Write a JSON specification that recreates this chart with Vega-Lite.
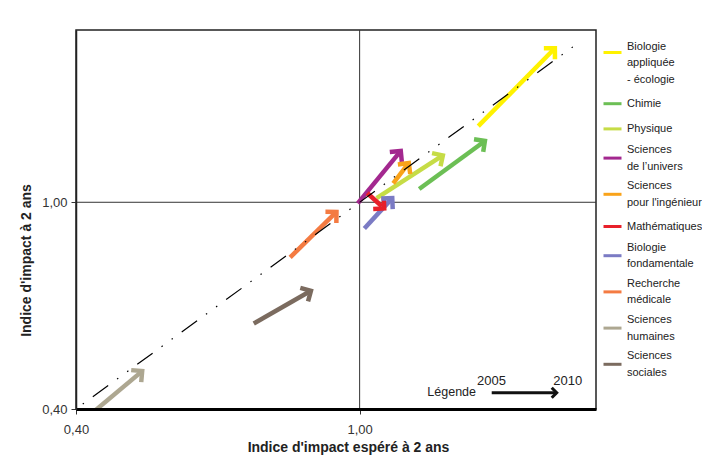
{
  "$schema": "https://vega.github.io/schema/vega-lite/v6.json",
  "width": 520,
  "height": 379,
  "autosize": {"type": "none"},
  "padding": {"left": 76, "top": 30, "right": 106, "bottom": 48},
  "background": "#ffffff",
  "config": {
    "font": "Liberation Sans",
    "view": {"stroke": "#222222", "strokeWidth": 1.5},
    "style": {"guide-label": {"lineHeight": 16.5}}
  },
  "datasets": {
    "arrows": [
      {"name": "Biologie\nappliquée\n- écologie", "x1": 1.251, "y1": 1.221, "x2": 1.413, "y2": 1.447},
      {"name": "Chimie", "x1": 1.126, "y1": 1.0385, "x2": 1.265, "y2": 1.178},
      {"name": "Physique", "x1": 1.036, "y1": 1.012, "x2": 1.176, "y2": 1.136},
      {"name": "Sciences\nde l’univers", "x1": 0.996, "y1": 0.997, "x2": 1.087, "y2": 1.149},
      {"name": "Sciences\npour l'ingénieur", "x1": 1.071, "y1": 1.055, "x2": 1.104, "y2": 1.114},
      {"name": "Mathématiques", "x1": 1.016, "y1": 1.027, "x2": 1.052, "y2": 0.982},
      {"name": "Biologie\nfondamentale", "x1": 1.010, "y1": 0.924, "x2": 1.069, "y2": 1.012},
      {"name": "Recherche\nmédicale", "x1": 0.853, "y1": 0.840, "x2": 0.951, "y2": 0.972},
      {"name": "Sciences\nhumaines", "x1": 0.440, "y1": 0.395, "x2": 0.540, "y2": 0.510},
      {"name": "Sciences\nsociales", "x1": 0.776, "y1": 0.648, "x2": 0.897, "y2": 0.743}
    ],
    "diag": [{"x": 0.4142, "y": 0.4142}, {"x": 1.464, "y": 1.464}],
    "ref": [{"v": 1}],
    "key": [{"x1": 1.2794, "y1": 0.4473, "x2": 1.4169, "y2": 0.4473}],
    "keytext": [{"t": "Légende", "x": 1.2462, "y": 0.4502}],
    "years": [{"t": "2005", "x": 1.279, "y": 0.4821}, {"t": "2010", "x": 1.4401, "y": 0.4821}]
  },
  "layer": [
    {
      "data": {"name": "ref"},
      "mark": {"type": "rule", "color": "#333333", "strokeWidth": 1},
      "encoding": {
        "x": {
          "field": "v", "type": "quantitative",
          "title": "Indice d'impact espéré à 2 ans",
          "scale": {"domain": [0.4, 1.5], "nice": false, "zero": false},
          "axis": {
            "values": [0.4, 1],
            "labelExpr": "replace(format(datum.value, '.2f'), '.', ',')",
            "grid": false,
            "domainColor": "#000000", "domainWidth": 3,
            "tickColor": "#333333", "tickSize": 5,
            "labelFontSize": 13, "labelColor": "#333333", "labelPadding": 9, "labelFlush": false,
            "titleFontSize": 14, "titleFontWeight": "bold", "titleColor": "#222222",
            "titlePadding": 4, "titleX": 272, "zindex": 1
          }
        }
      }
    },
    {
      "data": {"name": "ref"},
      "mark": {"type": "rule", "color": "#333333", "strokeWidth": 1},
      "encoding": {
        "y": {
          "field": "v", "type": "quantitative",
          "title": "Indice d'impact  à 2 ans",
          "scale": {"domain": [0.4, 1.5], "nice": false, "zero": false},
          "axis": {
            "values": [0.4, 1],
            "labelExpr": "replace(format(datum.value, '.2f'), '.', ',')",
            "grid": false,
            "domainColor": "#222222", "domainWidth": 1.5,
            "tickColor": "#333333", "tickSize": 5,
            "labelFontSize": 13, "labelColor": "#333333", "labelPadding": 4, "labelFlush": false,
            "titleFontSize": 14, "titleFontWeight": "bold", "titleColor": "#222222",
            "titlePadding": 8, "titleY": 230, "zindex": 1
          }
        }
      }
    },
    {
      "data": {"name": "arrows"},
      "mark": {"type": "rule", "strokeWidth": 4.5, "strokeCap": "butt", "clip": true},
      "encoding": {
        "x": {"field": "x1", "type": "quantitative", "title": "Indice d'impact espéré à 2 ans"},
        "y": {"field": "y1", "type": "quantitative", "title": "Indice d'impact  à 2 ans"},
        "x2": {"field": "x2"},
        "y2": {"field": "y2"},
        "color": {
          "field": "name", "type": "nominal",
          "scale": {
            "domain": ["Biologie\nappliquée\n- écologie", "Chimie", "Physique", "Sciences\nde l’univers", "Sciences\npour l'ingénieur", "Mathématiques", "Biologie\nfondamentale", "Recherche\nmédicale", "Sciences\nhumaines", "Sciences\nsociales"],
            "range": ["#fff200", "#6cbf55", "#c6dc46", "#a3288f", "#f9a31a", "#e8202a", "#7b7bc4", "#f47b42", "#ada791", "#7b6b5f"]
          },
          "legend": {
            "title": null, "orient": "none", "legendX": 526, "legendY": 12,
            "symbolType": "stroke", "symbolSize": 324, "symbolStrokeWidth": 3,
            "labelFontSize": 11, "labelColor": "#222222", "labelOffset": 4,
            "rowPadding": 8.2, "labelLimit": 300, "padding": 0,
            "labelExpr": "split(datum.label, '\\n')",
            "encode": {
              "labels": {
                "update": {
                  "dy": {"signal": "length(split(datum.label, '\\n')) == 2 ? -8 : (length(split(datum.label, '\\n')) == 3 ? -6 : 0)"}
                }
              }
            }
          }
        }
      }
    },
    {
      "data": {"name": "arrows"},
      "transform": [{"calculate": "atan2((datum.x2 - datum.x1) * 472.7, (datum.y2 - datum.y1) * 344.5) * 180 / PI", "as": "ang"}],
      "mark": {"type": "point", "shape": "M-1,1L0,0L1,1", "filled": false, "strokeWidth": 4.5, "strokeJoin": "miter", "strokeCap": "butt", "size": 243, "opacity": 1},
      "encoding": {
        "x": {"field": "x2", "type": "quantitative", "title": "Indice d'impact espéré à 2 ans"},
        "y": {"field": "y2", "type": "quantitative", "title": "Indice d'impact  à 2 ans"},
        "angle": {"field": "ang", "type": "quantitative", "scale": null},
        "color": {"field": "name", "type": "nominal", "legend": null}
      }
    },
    {
      "data": {"name": "diag"},
      "mark": {"type": "line", "color": "#000000", "strokeWidth": 1.2, "strokeDash": [1.5, 11, 19, 11, 1.5, 11]},
      "encoding": {
        "x": {"field": "x", "type": "quantitative", "title": "Indice d'impact espéré à 2 ans"},
        "y": {"field": "y", "type": "quantitative", "title": "Indice d'impact  à 2 ans"}
      }
    },
    {
      "data": {"name": "key"},
      "mark": {"type": "rule", "color": "#111111", "strokeWidth": 3, "strokeCap": "butt"},
      "encoding": {
        "x": {"field": "x1", "type": "quantitative", "title": "Indice d'impact espéré à 2 ans"},
        "y": {"field": "y1", "type": "quantitative", "title": "Indice d'impact  à 2 ans"},
        "x2": {"field": "x2"},
        "y2": {"field": "y2"}
      }
    },
    {
      "data": {"name": "key"},
      "transform": [{"calculate": "atan2((datum.x2 - datum.x1) * 472.7, (datum.y2 - datum.y1) * 344.5) * 180 / PI", "as": "ang"}],
      "mark": {"type": "point", "shape": "M-1,1L0,0L1,1", "filled": false, "color": "#111111", "strokeWidth": 3, "strokeJoin": "miter", "size": 100, "opacity": 1},
      "encoding": {
        "x": {"field": "x2", "type": "quantitative", "title": "Indice d'impact espéré à 2 ans"},
        "y": {"field": "y2", "type": "quantitative", "title": "Indice d'impact  à 2 ans"},
        "angle": {"field": "ang", "type": "quantitative", "scale": null}
      }
    },
    {
      "data": {"name": "keytext"},
      "mark": {"type": "text", "align": "right", "baseline": "middle", "fontSize": 12.5, "color": "#222222"},
      "encoding": {
        "x": {"field": "x", "type": "quantitative", "title": "Indice d'impact espéré à 2 ans"},
        "y": {"field": "y", "type": "quantitative", "title": "Indice d'impact  à 2 ans"},
        "text": {"field": "t"}
      }
    },
    {
      "data": {"name": "years"},
      "mark": {"type": "text", "align": "center", "baseline": "middle", "fontSize": 13, "color": "#222222"},
      "encoding": {
        "x": {"field": "x", "type": "quantitative", "title": "Indice d'impact espéré à 2 ans"},
        "y": {"field": "y", "type": "quantitative", "title": "Indice d'impact  à 2 ans"},
        "text": {"field": "t"}
      }
    }
  ]
}
